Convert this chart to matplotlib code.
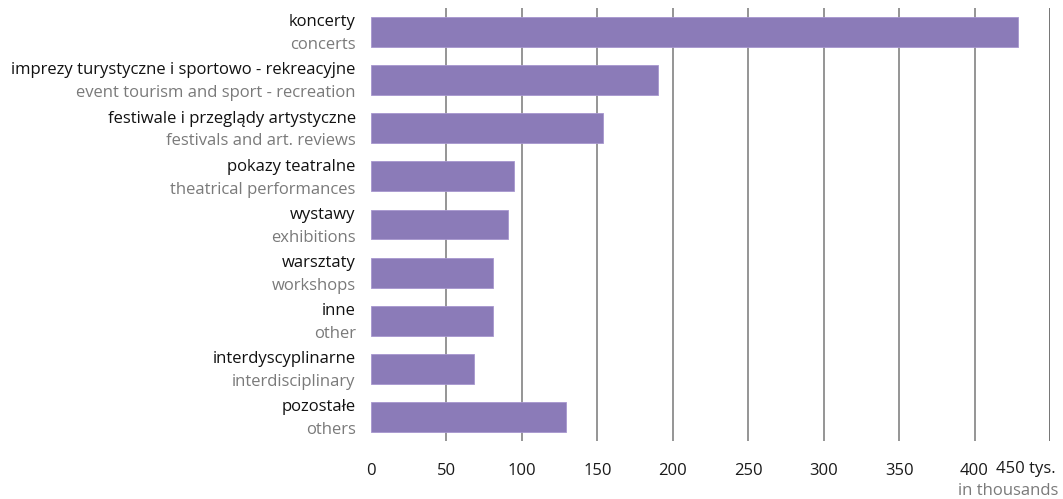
import matplotlib
matplotlib.use("Agg")
import matplotlib.pyplot as plt

labels_pl = ["koncerty", "imprezy turystyczne i sportowo - rekreacyjne",
             "festiwale i przeglądy artystyczne", "pokazy teatralne", "wystawy",
             "warsztaty", "inne", "interdyscyplinarne", "pozostałe"]
labels_en = ["concerts", "event tourism and sport - recreation",
             "festivals and art. reviews", "theatrical performances", "exhibitions",
             "workshops", "other", "interdisciplinary", "others"]
values = [429, 190, 154, 95, 91, 81, 81, 68, 129]
ticks = [0, 50, 100, 150, 200, 250, 300, 350, 400, 450]
tick_labels = ["0", "50", "100", "150", "200", "250", "300", "350", "400", ""]

plt.rcParams['font.family'] = ['Open Sans', 'DejaVu Sans']
W, H = 1063, 499
fig = plt.figure(figsize=(W/100, H/100), dpi=100)
ax = fig.add_axes([371/W, 1-441/H, (1050-371)/W, (441-8)/H])

ypos = list(range(len(values)))
ax.barh(ypos, values, height=0.62, color="#8b7bb8", edgecolor="#a796cf", linewidth=0.6, zorder=3)
ax.set_xlim(0, 450)
ax.set_ylim(len(values)-0.5, -0.5)

for t in ticks[1:]:
    ax.axvline(t, color="#8c8c8c" if t < 450 else "#6a6a6a", lw=1.3, zorder=1)

for s in ax.spines.values():
    s.set_visible(False)
ax.set_yticks([])
ax.set_xticks(ticks)
ax.set_xticklabels(tick_labels, fontsize=12, color="#1a1a1a")
ax.tick_params(axis='x', length=0, pad=16)

fs = 12
for i, (pl, en) in enumerate(zip(labels_pl, labels_en)):
    ax.annotate(pl, xy=(0, i), xycoords='data', xytext=(-11, 7), textcoords='offset points',
                ha='right', va='center', fontsize=fs, color='#111111')
    ax.annotate(en, xy=(0, i), xycoords='data', xytext=(-11, -9.5), textcoords='offset points',
                ha='right', va='center', fontsize=fs, color='#7a7a7a')

ax.annotate("450 tys.", xy=(450, len(values)-0.5), xycoords='data', xytext=(4, -20),
            textcoords='offset points', ha='right', va='center', fontsize=12, color='#1a1a1a',
            annotation_clip=False)
ax.annotate("in thousands", xy=(450, len(values)-0.5), xycoords='data', xytext=(6, -36),
            textcoords='offset points', ha='right', va='center', fontsize=12, color='#7a7a7a',
            annotation_clip=False)

fig.savefig("out.png", dpi=100)
